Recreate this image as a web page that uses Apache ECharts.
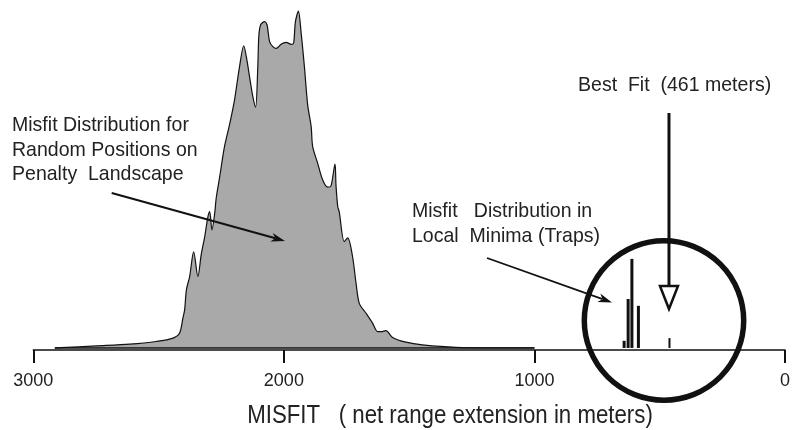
<!DOCTYPE html>
<html>
<head>
<meta charset="utf-8">
<script src="https://cdn.jsdelivr.net/npm/echarts@6/dist/echarts.min.js"></script>
<style>
  html, body { margin: 0; padding: 0; background: #fff; }
  #chart { width: 793px; height: 430px; }
</style>
</head>
<body>
<div id="chart"></div>
<script>
// Misfit (net range extension, m) of random positions on the penalty landscape
const misfit = [2914, 2748, 2615, 2509, 2442, 2416, 2403, 2396, 2389, 2376, 2360, 2343,
  2330, 2316, 2303, 2296, 2287, 2276, 2270, 2256, 2237, 2217, 2197, 2177, 2160, 2149,
  2137, 2125, 2113, 2104, 2100, 2093, 2077, 2067, 2057, 2045, 2031, 2010, 1991, 1970,
  1961, 1954, 1942, 1931, 1918, 1905, 1891, 1885, 1865, 1845, 1825, 1812, 1796, 1792,
  1785, 1779, 1759, 1745, 1726, 1712, 1699, 1672, 1646, 1626, 1612, 1593, 1566, 1513,
  1447, 1314, 1000];
// Relative frequency for each misfit value above
const freq = [0, 0.6, 1.1, 1.9, 2.9, 4.4, 8.8, 11.2, 17.1, 21.0, 28.3, 21.0,
  27.4, 32.7, 38.6, 40.1, 34.7, 39.6, 44.1, 50.4, 59.2, 65.6, 72.9, 82.7, 88.9, 85.3,
  79.8, 74.4, 70.8, 82.7, 91.6, 95.0, 96.0, 95.0, 90.1, 88.7, 88.1, 89.4, 89.9, 89.3,
  89.7, 95.9, 99.1, 92.6, 82.7, 71.5, 65.1, 59.2, 54.3, 49.4, 47.3, 47.6, 54.1, 47.9,
  41.6, 40.0, 31.3, 32.4, 26.9, 19.1, 13.1, 10.2, 7.3, 4.8, 4.8, 5.1, 3.1, 1.7,
  0.9, 0.2, 0];

// Misfit distribution in local minima (traps)
const trapMisfit = [642, 626, 611, 585];
const trapCount = [2.1, 14.4, 26.2, 12.4];

// Best fit solution
const bestFit = 461;
const bestFitCount = 2.9;

const xMin = 0, xMax = 3000, xStep = 1000;

const FONT = "'Liberation Sans', Arial, sans-serif";
const INK = '#111';
const TXT = '#222';
const NARROW = 0.93;   // horizontal squeeze for the condensed lettering

const chart = echarts.init(document.getElementById('chart'), null, { renderer: 'canvas' });

const xAxisBase = {
  type: 'value', min: xMin, max: xMax, interval: xStep, inverse: true,
  splitLine: { show: false }
};

chart.setOption({
  animation: false,
  backgroundColor: '#fff',
  grid: { left: 33.3, right: 6.3, top: 8, bottom: 80 },
  xAxis: [
    Object.assign({}, xAxisBase, {
      axisLine: { onZero: false, lineStyle: { color: INK, width: 1.5 } },
      axisTick: { length: 13, lineStyle: { color: INK, width: 2 } },
      axisLabel: {
        margin: 22, fontSize: 18, color: TXT, fontFamily: FONT,
        formatter: v => String(v)
      }
    }),
    Object.assign({}, xAxisBase, { show: false })
  ],
  yAxis: { type: 'value', min: -0.6, max: 100, show: false },
  series: [
    {
      name: 'Random positions',
      type: 'line',
      data: misfit.map((m, i) => [m, freq[i]]),
      symbol: 'none',
      smooth: 0.3,
      lineStyle: { color: INK, width: 1.2 },
      areaStyle: { color: '#a9a9a9', opacity: 1 },
      z: 2
    },
    {
      name: 'Baseline',
      type: 'line',
      data: [[misfit[0], 0], [misfit[misfit.length - 1], 0]],
      symbol: 'none',
      lineStyle: { color: INK, width: 1.4 },
      z: 3
    },
    {
      name: 'Traps',
      type: 'bar',
      data: trapMisfit.map((m, i) => [m, trapCount[i]]),
      barWidth: 3,
      itemStyle: { color: INK },
      z: 3
    },
    {
      name: 'Best fit',
      type: 'bar',
      xAxisIndex: 1,
      data: [[bestFit, bestFitCount]],
      barWidth: 2,
      itemStyle: { color: INK },
      z: 3
    }
  ]
});

// Annotation helpers
function arrowShape(x1, y1, x2, y2, len, hw, notch) {
  const a = Math.atan2(y2 - y1, x2 - x1), c = Math.cos(a), s = Math.sin(a);
  const bx = x2 - len * c, by = y2 - len * s;
  const nx = x2 - notch * c, ny = y2 - notch * s;
  return {
    line: [x1, y1, nx, ny],
    head: [[x2, y2], [bx - hw * s, by + hw * c], [nx, ny], [bx + hw * s, by - hw * c]]
  };
}
function arrow(x1, y1, x2, y2, w) {
  const a = arrowShape(x1, y1, x2, y2, 14, 4.5, 10);
  return [
    { type: 'line', shape: { x1: a.line[0], y1: a.line[1], x2: a.line[2], y2: a.line[3] },
      style: { stroke: INK, lineWidth: w }, z: 10 },
    { type: 'polygon', shape: { points: a.head }, style: { fill: INK }, z: 10 }
  ];
}
function label(text, x, y, size, align, sx) {
  align = align || 'left';
  return {
    type: 'text', x: x, y: y, z: 10, scaleX: sx || NARROW,
    style: {
      text: text, fill: TXT, font: size + 'px ' + FONT,
      align: align, verticalAlign: 'middle',
      textAlign: align, textVerticalAlign: 'middle'
    }
  };
}

const bfx = chart.convertToPixel({ xAxisIndex: 0, yAxisIndex: 0 }, [bestFit, 0])[0];

const elements = [
  label('Misfit Distribution for', 12, 125.5, 21),
  label('Random Positions on', 12, 150, 21),
  label('Penalty  Landscape', 12, 174, 21),
  label('Misfit   Distribution in', 412, 211.5, 21),
  label('Local  Minima (Traps)', 412, 236.5, 21),
  label('Best  Fit  (461 meters)', 578, 85.5, 21),
  label('MISFIT   ( net range extension in meters)', 450, 416, 25, 'center', 0.89),
  // lens around the trap distribution
  { type: 'circle', shape: { cx: 664, cy: 320.5, r: 79.7 },
    style: { fill: 'none', stroke: INK, lineWidth: 5.5 }, z: 9 },
  // best fit pointer
  { type: 'line', shape: { x1: bfx - 0.5, y1: 113, x2: bfx - 0.5, y2: 285 },
    style: { stroke: INK, lineWidth: 3 }, z: 10 },
  { type: 'polygon', shape: { points: [[bfx - 9.5, 286], [bfx + 8.5, 286], [bfx - 0.5, 309]] },
    style: { fill: '#fff', stroke: INK, lineWidth: 2.5, lineJoin: 'miter' }, z: 10 }
].concat(arrow(111.7, 193, 285, 241, 2))
 .concat(arrow(487, 258, 612, 302.5, 1.8));

chart.setOption({ graphic: { elements: elements } });
</script>
</body>
</html>
